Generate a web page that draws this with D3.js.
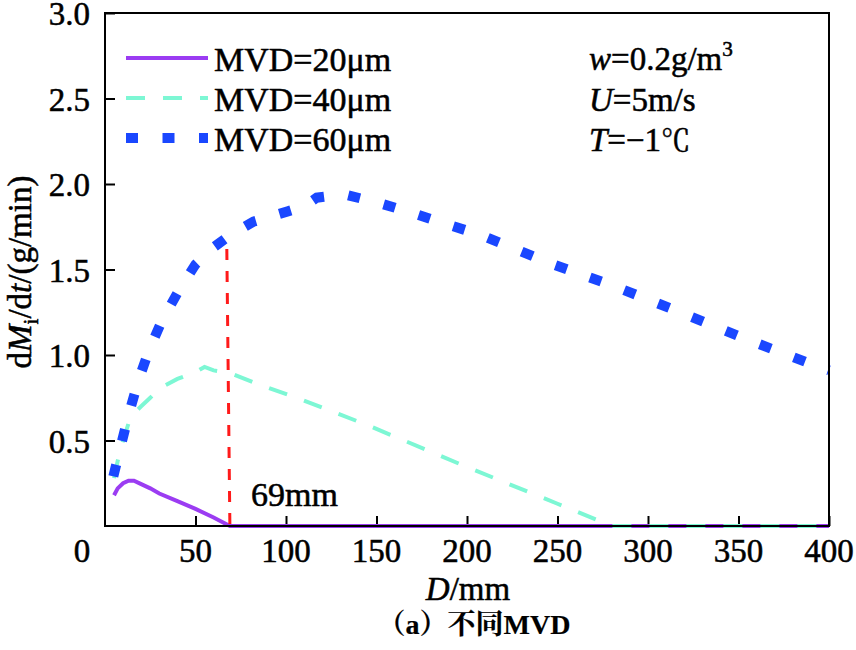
<!DOCTYPE html>
<html><head><meta charset="utf-8">
<script src="https://cdn.jsdelivr.net/npm/d3@7"></script>
<style>body{margin:0;background:#fff}svg{display:block}</style>
</head><body>
<svg id="c" width="856" height="650"></svg>
<script>
const xTicks=[50,100,150,200,250,300,350,400];
const yTicks=[0.5,1.0,1.5,2.0,2.5,3.0];
const seriesNames=["MVD=20μm","MVD=40μm","MVD=60μm"];
const mvd20=[[5,0.18],[7,0.22],[10,0.25],[13,0.265],[16,0.265],[20,0.245],[25,0.22],[30,0.19],[40,0.145],[50,0.1],[60,0.05],[69,0],[400,0]];
const mvd40=[[5,0.28],[7,0.38],[10,0.5],[13,0.6],[16,0.66],[20,0.7],[25,0.75],[31,0.81],[40,0.86],[50,0.9],[55,0.93],[60,0.91],[69,0.895],[87,0.82],[106,0.75],[145,0.59],[200,0.345],[250,0.13],[280,0],[400,0]];
const mvd60=[[4.6,0.29],[9,0.48],[13.3,0.66],[18.4,0.85],[24.4,1.03],[31.4,1.2],[40.4,1.37],[50,1.53],[60,1.63],[69,1.7],[82,1.78],[101,1.84],[110,1.87],[117,1.92],[132,1.94],[151,1.89],[170,1.83],[208,1.70],[245,1.54],[282,1.40],[319,1.245],[355,1.09],[392,0.94],[400,0.91]];
const redLine=[[67.3,1.62],[69,0]];

const SERIF="Liberation Serif";
const CJK="Noto Serif CJK SC";
const BASE=28;
const svg=d3.select("#c").attr("font-family",SERIF);
const L=105,R=829,T=13,B=526;
const x=d3.scaleLinear().domain([0,400]).range([L,R]);
const y=d3.scaleLinear().domain([0,3]).range([B,T]);

const styles=[
 {color:"#9b3cf2",w:4,dash:null},
 {color:"#7df7d4",w:4,dash:"19,18"},
 {color:"#1a47ff",w:10,dash:"12,24.5"}
];
const line=d3.line().x(d=>x(d[0])).y(d=>y(d[1]));

function txt(px,py,size,rot){
  const s=size/BASE;
  const g=svg.append("g").attr("transform",`translate(${px},${py})${rot?` rotate(${rot})`:""} scale(${s})`);
  return g.append("text").attr("x",0).attr("y",0).attr("font-family",SERIF).attr("font-size",BASE)
    .attr("fill","#000").attr("stroke","#000").attr("stroke-width",0.45);
}

const gx=svg.append("g").attr("transform",`translate(0,${B})`).call(d3.axisBottom(x).tickValues(xTicks).tickSize(-10).tickFormat(""));
gx.select(".domain").remove();
gx.selectAll("line").attr("stroke","#000").attr("stroke-width",2);
const gy=svg.append("g").attr("transform",`translate(${L},0)`).call(d3.axisLeft(y).tickValues(yTicks).tickSize(-10).tickFormat(""));
gy.select(".domain").remove();
gy.selectAll("line").attr("stroke","#000").attr("stroke-width",2);

xTicks.forEach(v=>txt(x(v),562,33).attr("text-anchor","middle").text(d3.format("d")(v)));
yTicks.forEach(v=>txt(L-15,y(v)+12,33).attr("text-anchor","end").text(d3.format(".1f")(v)));
txt(82,562,33).attr("text-anchor","middle").text("0");

[mvd20,mvd40,mvd60].forEach((s,i)=>{
  const st=styles[i];
  svg.append("path").datum(s).attr("d",line).attr("fill","none")
    .attr("stroke",st.color).attr("stroke-width",st.w)
    .attr("stroke-dasharray",st.dash);
});
svg.append("path").datum(redLine).attr("d",line).attr("fill","none")
  .attr("stroke","#ff1a1a").attr("stroke-width",3).attr("stroke-dasharray","11,11");

svg.append("rect").attr("x",L).attr("y",T).attr("width",R-L).attr("height",B-T)
  .attr("fill","none").attr("stroke","#000").attr("stroke-width",2);

seriesNames.forEach((n,i)=>{
  const st=styles[i];
  const ly=58+i*40;
  svg.append("line").attr("x1",126).attr("x2",208).attr("y1",ly).attr("y2",ly)
    .attr("stroke",st.color).attr("stroke-width",st.w).attr("stroke-dasharray",st.dash);
  txt(214,ly+13,34).text(n);
});

const a1=txt(589,70,33);
a1.append("tspan").attr("font-style","italic").text("w");
a1.append("tspan").text("=0.2g/m");
a1.append("tspan").attr("font-size",18).attr("dy",-12).text("3");
const a2=txt(589,111,33);
a2.append("tspan").attr("font-style","italic").text("U");
a2.append("tspan").text("=5m/s");
const a3=txt(589,151,33);
a3.append("tspan").attr("font-style","italic").text("T");
a3.append("tspan").text("=−1");
a3.append("tspan").attr("font-family",CJK).attr("font-size",25).text("℃");

txt(251,506,34).text("69mm");

const xl=txt(468,600,33).attr("text-anchor","middle");
xl.append("tspan").attr("font-style","italic").text("D");
xl.append("tspan").text("/mm");

const yl=txt(31,272,33,-90).attr("text-anchor","middle");
yl.append("tspan").text("d");
yl.append("tspan").attr("font-style","italic").text("M");
yl.append("tspan").attr("font-size",18).attr("dy",6).text("i");
yl.append("tspan").attr("dy",-6).text("/d");
yl.append("tspan").attr("font-style","italic").text("t");
yl.append("tspan").text("/(g/min)");

const cap=txt(474,634,28).attr("text-anchor","middle").attr("font-weight","bold").attr("stroke-width",0.2);
cap.append("tspan").attr("font-family",CJK).text("（");
cap.append("tspan").text("a");
cap.append("tspan").attr("font-family",CJK).text("）不同");
cap.append("tspan").text("MVD");
</script>
</body></html>
